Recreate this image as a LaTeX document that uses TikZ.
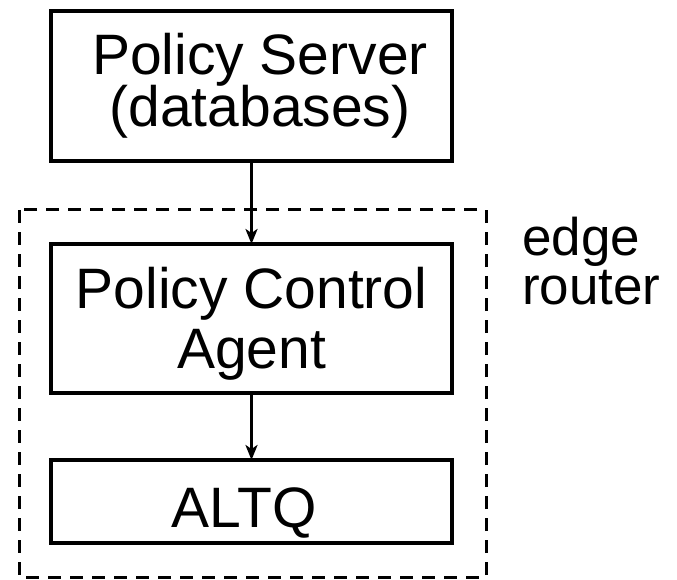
\documentclass[tikz,border=0pt]{standalone}
\usepackage{fontspec}
\setmainfont{Liberation Sans}
\usetikzlibrary{arrows.meta}
\begin{document}
\begin{tikzpicture}[x=1pt,y=-1pt,
  box/.style={draw, line width=3.5pt, minimum width=401pt, inner sep=0pt, outer sep=0pt},
  frame/.style={draw, line width=3pt, dash pattern=on 13pt off 9pt},
  lbl/.style={inner sep=0pt, font=\fontsize{57}{57}\selectfont},
  link/.style={line width=3pt, -{Stealth[length=15pt,width=12pt,inset=4pt]}}]
\useasboundingbox (0,0) rectangle (677,580);
% dashed outline of the edge router
\draw[frame] (19,210) rectangle (486,577);
% boxes
\node[box, minimum height=150pt] (ps)   at (251.5,86)    {};
\node[box, minimum height=149pt] (pca)  at (251.5,318.5) {};
\node[box, minimum height=83pt]  (altq) at (251.5,501.5) {};
% box texts
\node[lbl, anchor=base] (ps1)  at (260,75)    {Policy Server};
\node[lbl, anchor=base] (ps2)  at (260,127)   {(databases)};
\node[lbl, anchor=base] (pca1) at (251.5,308) {Policy Control};
\node[lbl, anchor=base] (pca2) at (251.5,368) {Agent};
\node[lbl, anchor=base] (alt1) at (244,527)   {ALTQ};
% side label, two lines set tight (base anchor = last line)
\node[inner sep=0pt, anchor=base west, align=left,
      font=\fontsize{53}{49}\selectfont] (er) at (522,304) {edge\\router};
% connectors
\draw[link] (ps.south) -- (pca.north);
\draw[link] (pca.south) -- (altq.north);
\end{tikzpicture}
\end{document}
